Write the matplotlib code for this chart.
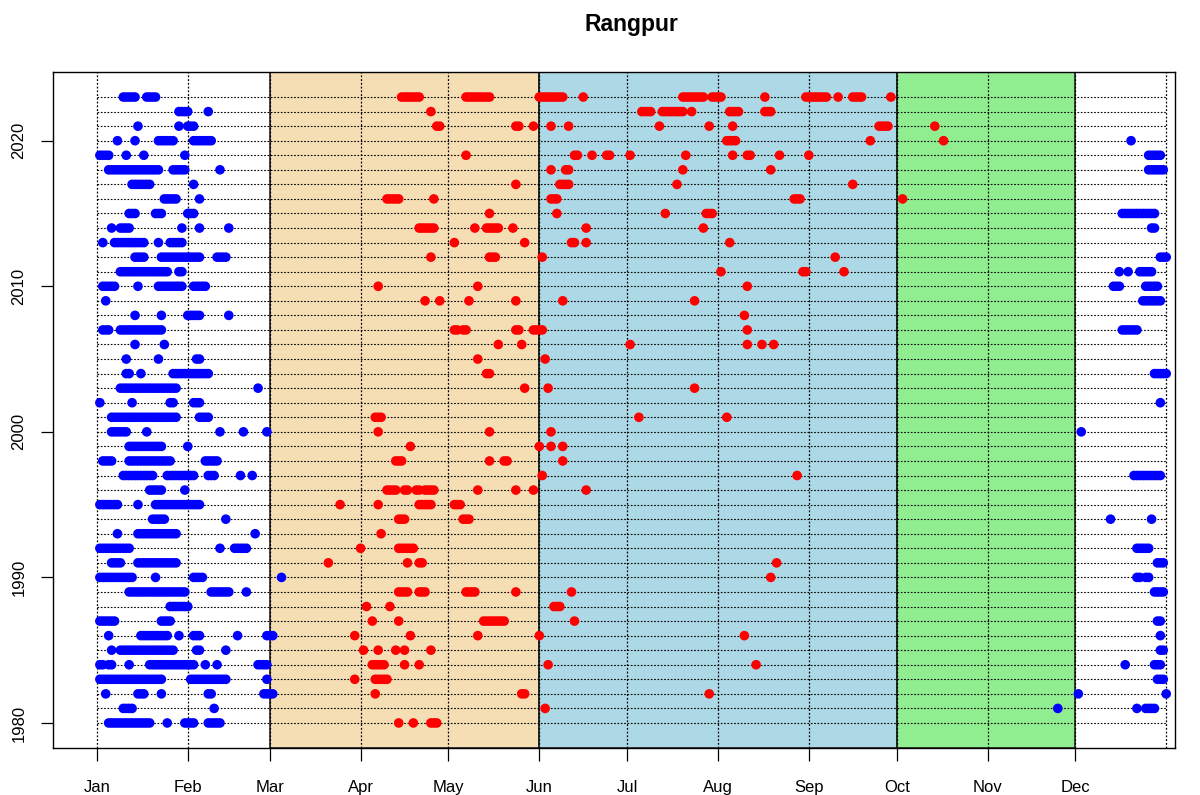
import matplotlib
matplotlib.use("Agg")
import matplotlib.pyplot as plt

plt.rcParams['font.family'] = ['Liberation Sans', 'DejaVu Sans']

# data: runs of event days (year, first day of year, last day of year)
blue_runs = [
    (2023, 10, 14), (2023, 18, 21),
    (2022, 29, 32), (2022, 39, 39),
    (2021, 15, 15), (2021, 29, 29), (2021, 32, 34),
    (2020, 8, 8), (2020, 14, 14), (2020, 22, 27), (2020, 34, 40), (2020, 354, 354),
    (2019, 2, 5), (2019, 11, 11), (2019, 17, 17), (2019, 31, 31), (2019, 360, 364),
    (2018, 5, 22), (2018, 27, 31), (2018, 43, 43), (2018, 360, 365),
    (2017, 13, 19), (2017, 34, 34),
    (2016, 24, 28), (2016, 36, 36),
    (2015, 12, 14), (2015, 21, 23), (2015, 32, 34), (2015, 351, 362),
    (2014, 6, 6), (2014, 9, 12), (2014, 30, 30), (2014, 36, 36), (2014, 46, 46), (2014, 361, 362),
    (2013, 3, 3), (2013, 7, 17), (2013, 22, 22), (2013, 26, 30),
    (2012, 14, 17), (2012, 23, 36), (2012, 42, 45), (2012, 364, 366),
    (2011, 9, 25), (2011, 29, 30), (2011, 350, 350), (2011, 353, 353), (2011, 357, 361),
    (2010, 3, 7), (2010, 15, 15), (2010, 22, 30), (2010, 34, 38), (2010, 348, 350), (2010, 359, 363),
    (2009, 4, 4), (2009, 358, 364),
    (2008, 14, 14), (2008, 23, 23), (2008, 32, 36), (2008, 46, 46),
    (2007, 3, 5), (2007, 9, 23), (2007, 351, 356),
    (2006, 14, 14), (2006, 24, 24),
    (2005, 11, 11), (2005, 22, 22), (2005, 35, 36),
    (2004, 11, 12), (2004, 16, 16), (2004, 27, 39), (2004, 362, 366),
    (2003, 9, 28), (2003, 56, 56),
    (2002, 2, 2), (2002, 13, 13), (2002, 26, 27), (2002, 34, 36), (2002, 364, 364),
    (2001, 6, 28), (2001, 36, 39),
    (2000, 6, 11), (2000, 18, 18), (2000, 43, 43), (2000, 51, 51), (2000, 59, 59), (2000, 337, 337),
    (1999, 12, 23), (1999, 32, 32),
    (1998, 3, 6), (1998, 12, 26), (1998, 38, 42),
    (1997, 10, 20), (1997, 25, 34), (1997, 39, 41), (1997, 50, 50), (1997, 54, 54), (1997, 355, 364),
    (1996, 19, 23), (1996, 31, 31),
    (1995, 2, 8), (1995, 15, 15), (1995, 21, 36),
    (1994, 20, 24), (1994, 45, 45), (1994, 347, 347), (1994, 361, 361),
    (1993, 8, 8), (1993, 15, 28), (1993, 55, 55),
    (1992, 2, 12), (1992, 43, 43), (1992, 48, 52), (1992, 356, 360),
    (1991, 6, 9), (1991, 15, 28), (1991, 363, 365),
    (1990, 2, 13), (1990, 21, 21), (1990, 34, 37), (1990, 64, 64), (1990, 356, 357), (1990, 359, 360),
    (1989, 12, 31), (1989, 40, 46), (1989, 52, 52), (1989, 362, 365),
    (1988, 26, 32),
    (1987, 2, 7), (1987, 23, 26), (1987, 363, 364),
    (1986, 5, 5), (1986, 16, 25), (1986, 29, 29), (1986, 34, 36), (1986, 49, 49), (1986, 59, 61), (1986, 364, 364),
    (1985, 6, 6), (1985, 9, 27), (1985, 35, 36), (1985, 45, 45), (1985, 364, 365),
    (1984, 2, 3), (1984, 5, 6), (1984, 12, 12), (1984, 19, 34), (1984, 38, 38), (1984, 42, 42),
    (1984, 56, 59), (1984, 352, 352), (1984, 362, 364),
    (1983, 2, 23), (1983, 33, 45), (1983, 59, 59), (1983, 363, 365),
    (1982, 4, 4), (1982, 15, 17), (1982, 23, 23), (1982, 39, 40), (1982, 58, 61), (1982, 336, 336), (1982, 366, 366),
    (1981, 10, 13), (1981, 41, 41), (1981, 329, 329), (1981, 356, 356), (1981, 359, 362),
    (1980, 5, 19), (1980, 25, 25), (1980, 31, 34), (1980, 39, 43),
]

red_runs = [
    (2023, 105, 111), (2023, 127, 135), (2023, 152, 160), (2023, 167, 167), (2023, 201, 208),
    (2023, 211, 214), (2023, 229, 229), (2023, 243, 250), (2023, 254, 254), (2023, 259, 262), (2023, 272, 272),
    (2022, 115, 115), (2022, 187, 190), (2022, 194, 201), (2022, 204, 204), (2022, 217, 220), (2022, 229, 231),
    (2021, 117, 118), (2021, 144, 145), (2021, 150, 150), (2021, 156, 156), (2021, 162, 162),
    (2021, 193, 193), (2021, 210, 210), (2021, 218, 218), (2021, 268, 271), (2021, 287, 287),
    (2020, 216, 219), (2020, 265, 265), (2020, 290, 290),
    (2019, 127, 127), (2019, 164, 165), (2019, 170, 170), (2019, 175, 176), (2019, 183, 183),
    (2019, 202, 202), (2019, 218, 218), (2019, 223, 224), (2019, 234, 234), (2019, 244, 244),
    (2018, 156, 156), (2018, 161, 162), (2018, 201, 201), (2018, 231, 231),
    (2017, 144, 144), (2017, 159, 162), (2017, 199, 199), (2017, 259, 259),
    (2016, 100, 104), (2016, 116, 116), (2016, 156, 158), (2016, 239, 241), (2016, 276, 276),
    (2015, 135, 135), (2015, 158, 158), (2015, 195, 195), (2015, 209, 211),
    (2014, 111, 116), (2014, 130, 130), (2014, 134, 138), (2014, 143, 143), (2014, 168, 168), (2014, 208, 208),
    (2013, 123, 123), (2013, 147, 147), (2013, 163, 164), (2013, 168, 168), (2013, 217, 217),
    (2012, 115, 115), (2012, 135, 137), (2012, 153, 153), (2012, 253, 253),
    (2011, 214, 214), (2011, 242, 243), (2011, 256, 256),
    (2010, 97, 97), (2010, 131, 131), (2010, 223, 223),
    (2009, 113, 113), (2009, 118, 118), (2009, 128, 128), (2009, 144, 144), (2009, 160, 160), (2009, 205, 205),
    (2008, 222, 222),
    (2007, 123, 124), (2007, 126, 127), (2007, 144, 145), (2007, 150, 153), (2007, 223, 223),
    (2006, 138, 138), (2006, 146, 146), (2006, 183, 183), (2006, 223, 223), (2006, 228, 228), (2006, 232, 232),
    (2005, 131, 131), (2005, 154, 154),
    (2004, 134, 135),
    (2003, 147, 147), (2003, 155, 155), (2003, 205, 205),
    (2001, 96, 98), (2001, 186, 186), (2001, 216, 216),
    (2000, 97, 97), (2000, 135, 135), (2000, 156, 156),
    (1999, 108, 108), (1999, 152, 152), (1999, 156, 156), (1999, 160, 160),
    (1998, 103, 105), (1998, 135, 135), (1998, 140, 141), (1998, 160, 160),
    (1997, 153, 153), (1997, 240, 240),
    (1996, 100, 103), (1996, 106, 107), (1996, 110, 111), (1996, 113, 116), (1996, 131, 131),
    (1996, 144, 144), (1996, 150, 150), (1996, 168, 168),
    (1995, 84, 84), (1995, 97, 97), (1995, 111, 115), (1995, 123, 125),
    (1994, 104, 106), (1994, 126, 128),
    (1993, 98, 98),
    (1992, 91, 91), (1992, 104, 109),
    (1991, 80, 80), (1991, 107, 107), (1991, 111, 112), (1991, 233, 233),
    (1990, 231, 231),
    (1989, 104, 107), (1989, 111, 113), (1989, 127, 130), (1989, 144, 144), (1989, 163, 163),
    (1988, 93, 93), (1988, 101, 101), (1988, 157, 159),
    (1987, 95, 95), (1987, 104, 104), (1987, 133, 140), (1987, 164, 164),
    (1986, 89, 89), (1986, 108, 108), (1986, 131, 131), (1986, 152, 152), (1986, 222, 222),
    (1985, 92, 92), (1985, 97, 97), (1985, 103, 103), (1985, 106, 106), (1985, 115, 115),
    (1984, 95, 99), (1984, 106, 106), (1984, 111, 111), (1984, 155, 155), (1984, 226, 226),
    (1983, 89, 89), (1983, 96, 100),
    (1982, 96, 96), (1982, 146, 147), (1982, 210, 210),
    (1981, 154, 154),
    (1980, 104, 104), (1980, 109, 109), (1980, 115, 117),
]

month_labels = ['Jan', 'Feb', 'Mar', 'Apr', 'May', 'Jun',
                'Jul', 'Aug', 'Sep', 'Oct', 'Nov', 'Dec']
month_start = [1, 32, 60, 91, 121, 152, 182, 213, 244, 274, 305, 335]
year_end = 366
years = list(range(1980, 2024))

# seasons shaded: (start, end, colour)
seasons = [(60, 152, '#F5DEB3'), (152, 274, '#ADD8E6'), (274, 335, '#90EE90')]


def expand(runs):
    xs, ys = [], []
    for yr, a, b in runs:
        for d in range(a, b + 1):
            xs.append(d)
            ys.append(yr)
    return xs, ys


fig = plt.figure(figsize=(12, 7.95), dpi=100)
ax = fig.add_axes([53 / 1200, 47 / 795, 1122 / 1200, 676 / 795])

for a, b, c in seasons:
    ax.axvspan(a, b, facecolor=c, edgecolor='#222222', lw=1.2, zorder=0)

ax.hlines(years, 1, year_end, colors='black', linestyles=(0, (1.5, 1.5)), lw=0.8, zorder=1)
for d in month_start + [year_end]:
    ax.axvline(d, color='black', ls=(0, (1.5, 1.5)), lw=0.9, zorder=1)

bx, by = expand(blue_runs)
rx, ry = expand(red_runs)
ax.scatter(bx, by, s=48, c='blue', edgecolors='none', zorder=3)
ax.scatter(rx, ry, s=48, c='red', edgecolors='none', zorder=3)

ax.set_xlim(-14, 369)
ax.set_ylim(1978.28, 2024.72)

ax.set_xticks(month_start)
ax.set_xticklabels(month_labels, fontsize=12)
ax.set_yticks([1980, 1990, 2000, 2010, 2020])
ax.set_yticklabels(['1980', '1990', '2000', '2010', '2020'], fontsize=12,
                   rotation=90, va='center')
ax.tick_params(axis='both', length=9, width=0.9, color='black')
ax.tick_params(axis='x', pad=14)
ax.tick_params(axis='y', pad=10)
for sp in ax.spines.values():
    sp.set_linewidth(1.0)
    sp.set_color('black')

fig.text(631 / 1200, 1 - 25 / 795, 'Rangpur', ha='center', va='center',
         fontsize=16.5, fontweight='bold')

fig.savefig('out.png', dpi=100)
